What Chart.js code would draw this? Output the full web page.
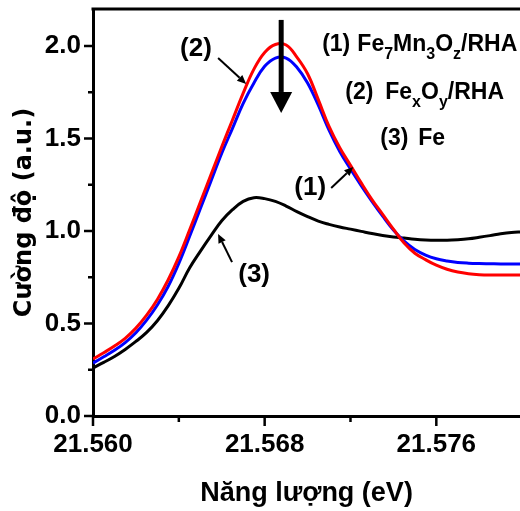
<!DOCTYPE html>
<html>
<head>
<meta charset="utf-8">
<title>XANES Fe K-edge</title>
<script src="https://cdn.jsdelivr.net/npm/chart.js@4.4.1/dist/chart.umd.min.js"></script>
<style>
  html, body { margin: 0; padding: 0; background: #fff; }
  #wrap { width: 520px; height: 511px; }
</style>
</head>
<body>
<div id="wrap"><canvas id="xanes" width="520" height="511"></canvas></div>
<script>
// Năng lượng (trục x)
const energy = [
  21.5600, 21.5605, 21.5610, 21.5615, 21.5620, 21.5625, 21.5630, 21.5635, 21.5640, 21.5645,
  21.5650, 21.5655, 21.5660, 21.5665, 21.5670, 21.5675, 21.5680, 21.5685, 21.5690, 21.5695,
  21.5700, 21.5705, 21.5710, 21.5715, 21.5720, 21.5725, 21.5730, 21.5735, 21.5740, 21.5745,
  21.5750, 21.5755, 21.5760, 21.5765, 21.5770, 21.5775, 21.5780, 21.5785, 21.5790, 21.5795,
  21.5800
];

// (1) Fe7Mn3Oz/RHA - đường đỏ
const fe7mn3 = [
  0.308, 0.342, 0.378, 0.420, 0.475, 0.545, 0.630, 0.735, 0.860, 1.005,
  1.155, 1.305, 1.455, 1.600, 1.745, 1.875, 1.965, 2.008, 2.005, 1.940,
  1.850, 1.710, 1.565, 1.450, 1.355, 1.260, 1.170, 1.090, 1.010, 0.935,
  0.880, 0.845, 0.815, 0.793, 0.778, 0.769, 0.764, 0.762, 0.762, 0.762,
  0.762
];

// (2) FexOy/RHA - đường xanh
const fexoy = [
  0.286, 0.320, 0.355, 0.397, 0.450, 0.518, 0.600, 0.700, 0.825, 0.970,
  1.120, 1.270, 1.420, 1.555, 1.690, 1.800, 1.890, 1.935, 1.935, 1.885,
  1.800, 1.680, 1.545, 1.430, 1.335, 1.245, 1.160, 1.080, 1.005, 0.945,
  0.900, 0.870, 0.850, 0.838, 0.830, 0.826, 0.824, 0.823, 0.822, 0.822,
  0.822
];

// (3) Fe - đường đen
const fe = [
  0.260, 0.290, 0.322, 0.360, 0.403, 0.452, 0.515, 0.595, 0.690, 0.800,
  0.890, 0.975, 1.055, 1.115, 1.160, 1.180, 1.175, 1.160, 1.135, 1.105,
  1.078, 1.053, 1.036, 1.022, 1.010, 0.998, 0.986, 0.976, 0.968, 0.962,
  0.956, 0.952, 0.950, 0.950, 0.953, 0.958, 0.966, 0.975, 0.985, 0.992,
  0.995
];

const xMajorTicks = [21.560, 21.568, 21.576];
const xMinorTicks = [21.564, 21.572];
const yMajorTicks = [0, 0.5, 1.0, 1.5, 2.0];
const yMinorTicks = [0.25, 0.75, 1.25, 1.75];

// chú thích góc phải: số thứ tự + tên (phần tử true = chỉ số dưới)
const legendNums = ['(1)', '(2)', '(3)'];
const legendNames = [
  [['Fe', false], ['7', true], ['Mn', false], ['3', true], ['O', false], ['z', true], ['/RHA', false]],
  [['Fe', false], ['x', true], ['O', false], ['y', true], ['/RHA', false]],
  [['Fe', false]]
];
const legendNumX = [21.57068, 21.57176, 21.57339];
const legendNameX = [21.57232, 21.57362, 21.57516];
const legendY = [1.973, 1.714, 1.465];

// nhãn đường cong + mũi tên chỉ
const curveLabels = ['(2)', '(1)', '(3)'];
const curveLabelX = [21.56480, 21.57012, 21.56751];
const curveLabelY = [1.984, 1.232, 0.762];
const pointerFromX = [21.56583, 21.57110, 21.56648];
const pointerFromY = [1.935, 1.232, 0.832];
const pointerToX = [21.56714, 21.57213, 21.56583];
const pointerToY = [1.795, 1.346, 0.984];

// mũi tên lớn (giảm cường độ)
const bigArrowX = 21.56877;
const bigArrowFrom = 2.141;
const bigArrowTo = 1.638;

const ARIAL = '"Liberation Sans", Arial, sans-serif';

function toPoints(ys) {
  return energy.map((e, i) => ({ x: e, y: ys[i] }));
}

function drawRich(ctx, parts, x, y, size) {
  let cx = x;
  parts.forEach(([text, sub]) => {
    const s = sub ? 16 : size;
    ctx.font = 'bold ' + s + 'px ' + ARIAL;
    ctx.fillText(text, cx, sub ? y + 8 : y);
    cx += ctx.measureText(text).width;
  });
}

function drawArrow(ctx, x1, y1, x2, y2, headLen, headHalf, width) {
  const a = Math.atan2(y2 - y1, x2 - x1);
  const bx = x2 - headLen * Math.cos(a);
  const by = y2 - headLen * Math.sin(a);
  ctx.lineWidth = width;
  ctx.beginPath();
  ctx.moveTo(x1, y1);
  ctx.lineTo(bx, by);
  ctx.stroke();
  ctx.beginPath();
  ctx.moveTo(x2, y2);
  ctx.lineTo(bx + headHalf * Math.sin(a), by - headHalf * Math.cos(a));
  ctx.lineTo(bx - headHalf * Math.sin(a), by + headHalf * Math.cos(a));
  ctx.closePath();
  ctx.fill();
}

const decorPlugin = {
  id: 'decor',
  afterDraw(chart) {
    const { ctx, chartArea: area } = chart;
    const xs = chart.scales.x;
    const ys = chart.scales.y;
    ctx.save();
    ctx.strokeStyle = '#000';
    ctx.fillStyle = '#000';

    // khung trên
    ctx.lineWidth = 3;
    ctx.beginPath();
    ctx.moveTo(area.left - 1.5, area.top);
    ctx.lineTo(area.right, area.top);
    ctx.stroke();

    // vạch chia
    ctx.lineWidth = 2.5;
    ctx.beginPath();
    xMajorTicks.forEach(v => {
      const px = xs.getPixelForValue(v);
      ctx.moveTo(px, area.bottom); ctx.lineTo(px, area.bottom + 10);
    });
    xMinorTicks.forEach(v => {
      const px = xs.getPixelForValue(v);
      ctx.moveTo(px, area.bottom); ctx.lineTo(px, area.bottom + 6);
    });
    yMajorTicks.forEach(v => {
      const py = ys.getPixelForValue(v);
      ctx.moveTo(area.left - 9, py); ctx.lineTo(area.left, py);
    });
    yMinorTicks.forEach(v => {
      const py = ys.getPixelForValue(v);
      ctx.moveTo(area.left - 5, py); ctx.lineTo(area.left, py);
    });
    ctx.stroke();

    // chú thích
    ctx.textBaseline = 'alphabetic';
    ctx.textAlign = 'left';
    legendNums.forEach((n, i) => {
      const py = ys.getPixelForValue(legendY[i]);
      ctx.font = 'bold 23px ' + ARIAL;
      ctx.fillText(n, xs.getPixelForValue(legendNumX[i]), py);
      drawRich(ctx, legendNames[i], xs.getPixelForValue(legendNameX[i]), py, 23);
    });

    // nhãn đường cong
    ctx.textAlign = 'center';
    ctx.textBaseline = 'middle';
    ctx.font = 'bold 26px ' + ARIAL;
    curveLabels.forEach((t, i) => {
      ctx.fillText(t, xs.getPixelForValue(curveLabelX[i]), ys.getPixelForValue(curveLabelY[i]));
    });
    curveLabels.forEach((t, i) => {
      drawArrow(ctx,
        xs.getPixelForValue(pointerFromX[i]), ys.getPixelForValue(pointerFromY[i]),
        xs.getPixelForValue(pointerToX[i]), ys.getPixelForValue(pointerToY[i]),
        9, 4, 2);
    });

    // mũi tên lớn
    const bx = xs.getPixelForValue(bigArrowX);
    drawArrow(ctx, bx, ys.getPixelForValue(bigArrowFrom), bx, ys.getPixelForValue(bigArrowTo), 21, 11, 5);

    ctx.restore();
  }
};

const ctx = document.getElementById('xanes').getContext('2d');
const xanesChart = new Chart(ctx, {
  type: 'line',
  data: {
    datasets: [
      { label: 'Fe7Mn3Oz/RHA', data: toPoints(fe7mn3), borderColor: '#ff0000' },
      { label: 'FexOy/RHA', data: toPoints(fexoy), borderColor: '#0000ff' },
      { label: 'Fe', data: toPoints(fe), borderColor: '#000000' }
    ]
  },
  options: {
    responsive: false,
    devicePixelRatio: 1,
    animation: false,
    layout: { padding: { top: 9, left: 0, right: 0, bottom: 0 } },
    elements: {
      point: { radius: 0 },
      line: { borderWidth: 3, tension: 0.4, fill: false }
    },
    plugins: {
      legend: { display: false },
      tooltip: { enabled: false }
    },
    scales: {
      x: {
        type: 'linear',
        min: 21.560,
        max: 21.5799,
        afterBuildTicks: s => { s.ticks = xMajorTicks.map(v => ({ value: v })); },
        afterFit: s => { s.height = 95; s.paddingLeft = 0; s.paddingRight = 0; },
        grid: { drawOnChartArea: false, drawTicks: true, tickLength: 10, color: 'rgba(0,0,0,0)' },
        border: { display: true, color: '#000', width: 3 },
        ticks: {
          color: '#000',
          padding: 3,
          maxRotation: 0,
          font: { family: ARIAL, size: 26, weight: 'bold' },
          callback: v => v.toFixed(3)
        },
        title: {
          display: true,
          text: 'Năng lượng (eV)',
          color: '#000',
          font: { family: ARIAL, size: 27, weight: 'bold' },
          padding: { top: 0, bottom: 1 }
        }
      },
      y: {
        min: 0,
        max: 2.2,
        afterBuildTicks: s => { s.ticks = yMajorTicks.map(v => ({ value: v })); },
        afterFit: s => { s.width = 93; s.paddingTop = 0; s.paddingBottom = 0; },
        grid: { drawOnChartArea: false, drawTicks: true, tickLength: 9, color: 'rgba(0,0,0,0)' },
        border: { display: true, color: '#000', width: 3 },
        ticks: {
          color: '#000',
          padding: 3,
          font: { family: ARIAL, size: 26, weight: 'bold' },
          callback: v => v.toFixed(1)
        },
        title: {
          display: true,
          text: 'Cường độ (a.u.)',
          color: '#000',
          font: { family: '"DejaVu Sans", sans-serif', size: 24, weight: 'bold' },
          padding: { top: 10, bottom: 0 }
        }
      }
    }
  },
  plugins: [decorPlugin]
});
</script>
</body>
</html>
